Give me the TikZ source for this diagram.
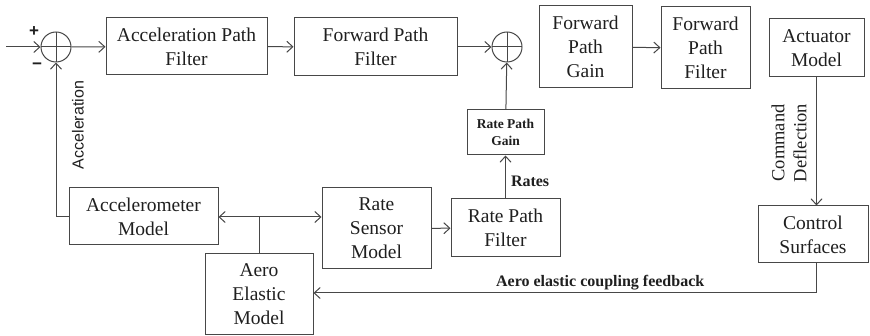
\documentclass[tikz,border=0pt]{standalone}
\usepackage{fontspec}
\setmainfont{Liberation Serif}
\newfontfamily\labelsans{Liberation Sans}
\usetikzlibrary{calc, positioning, arrows.meta}
\colorlet{wirecol}{black!72}
\colorlet{textcol}{black!88}
\tikzset{
  block/.style={draw=wirecol, line width=1, text=textcol, align=center, inner sep=0pt,
    font=\fontsize{19.5}{24}\selectfont},
  smallblock/.style={block, font=\fontsize{13.5}{17.5}\selectfont\bfseries},
  sumnode/.style={draw=wirecol, circle, line width=1, minimum size=30, inner sep=0pt,
    path picture={\draw[wirecol, line width=1]
      (path picture bounding box.north) -- (path picture bounding box.south)
      (path picture bounding box.west) -- (path picture bounding box.east);}},
  sig/.style={draw=wirecol, line width=1, -{Straight Barb[length=6pt,width=11pt]}},
  wire/.style={draw=wirecol, line width=1},
  boldlabel/.style={text=textcol, font=\fontsize{16}{19}\selectfont\bfseries, inner sep=2pt},
  signlabel/.style={text=textcol, font=\labelsans\fontsize{17}{17}\selectfont\bfseries, inner sep=0pt}
}

\begin{document}
\begin{tikzpicture}
      [x=1pt, y=-1pt]
      \useasboundingbox (0,0) rectangle (870,336);
      % nodes %
      \node[sumnode] (sumA) at (56,47) {};
      \node[block, minimum width=161, minimum height=57] (apf) at (186.5,46.5) {Acceleration Path\\Filter};
      \node[block, minimum width=163, minimum height=58] (fpf) at (375.5,47) {Forward Path\\Filter};
      \node[sumnode] (sumB) at (507,47) {};
      \node[block, minimum width=93, minimum height=82] (fpg) at (585.5,47) {Forward\\Path\\Gain};
      \node[block, minimum width=89, minimum height=82] (fpfb) at (705.5,48) {Forward\\Path\\Filter};
      \node[block, minimum width=95, minimum height=58] (act) at (816.5,48) {Actuator\\Model};
      \node[block, minimum width=110, minimum height=57] (cs) at (813,234.5) {Control\\Surfaces};
      \node[smallblock, minimum width=77, minimum height=45] (rpg) at (505.5,132.5) {Rate Path\\Gain};
      \node[block, minimum width=109, minimum height=58] (rpf) at (505.5,228) {Rate Path\\Filter};
      \node[block, minimum width=109, minimum height=81] (rsm) at (376.5,228.5) {Rate\\Sensor\\Model};
      \node[block, minimum width=149, minimum height=57] (accm) at (143.5,216.5) {Accelerometer\\Model};
      \node[block, minimum width=108, minimum height=81] (aem) at (259,294.5) {Aero\\Elastic\\Model};

      \coordinate (in) at (6,47);
      \coordinate (split) at (aem.north |- 0,217);

      % signs and side labels %
      \node[signlabel] (plus) at (34,32) {+};
      \node[signlabel] (minus) at (37,66) {−};
      \node[rotate=90, text=textcol, font=\labelsans\fontsize{16}{19}\selectfont] (acclab) at (78,125) {Acceleration};
      \node[rotate=90, text=textcol, align=center, font=\fontsize{18.5}{22}\selectfont] (cmdlab) at (789,143) {Command\\Deflection};

      % edges %
      \draw[sig] (in) -- (sumA);
      \draw[sig] (sumA) -- (apf);
      \draw[sig] (apf) -- (fpf);
      \draw[sig] (fpf) -- (sumB);
      \draw[sig] (fpg) -- (fpfb);
      \draw[sig] (act.south) -- (act.south |- cs.north);
      \draw[sig] (rpg) -- (sumB);
      \draw[sig] (rpf) -- node[boldlabel, right=3pt, pos=0.41] {Rates} (rpg);
      \draw[sig] (rsm) -- (rpf);

      \draw[wire] (aem.north) -- (split);
      \draw[sig] (split) -- (accm.east |- split);
      \draw[sig] (split) -- (rsm.west |- split);
      \draw[sig] (accm.west) -| (sumA.south);
      \draw[sig] (cs.south -| act.south) |- node[boldlabel, above, pos=0.715] {Aero elastic coupling feedback} (aem.east |- 0,293);

    \end{tikzpicture}
\end{document}
